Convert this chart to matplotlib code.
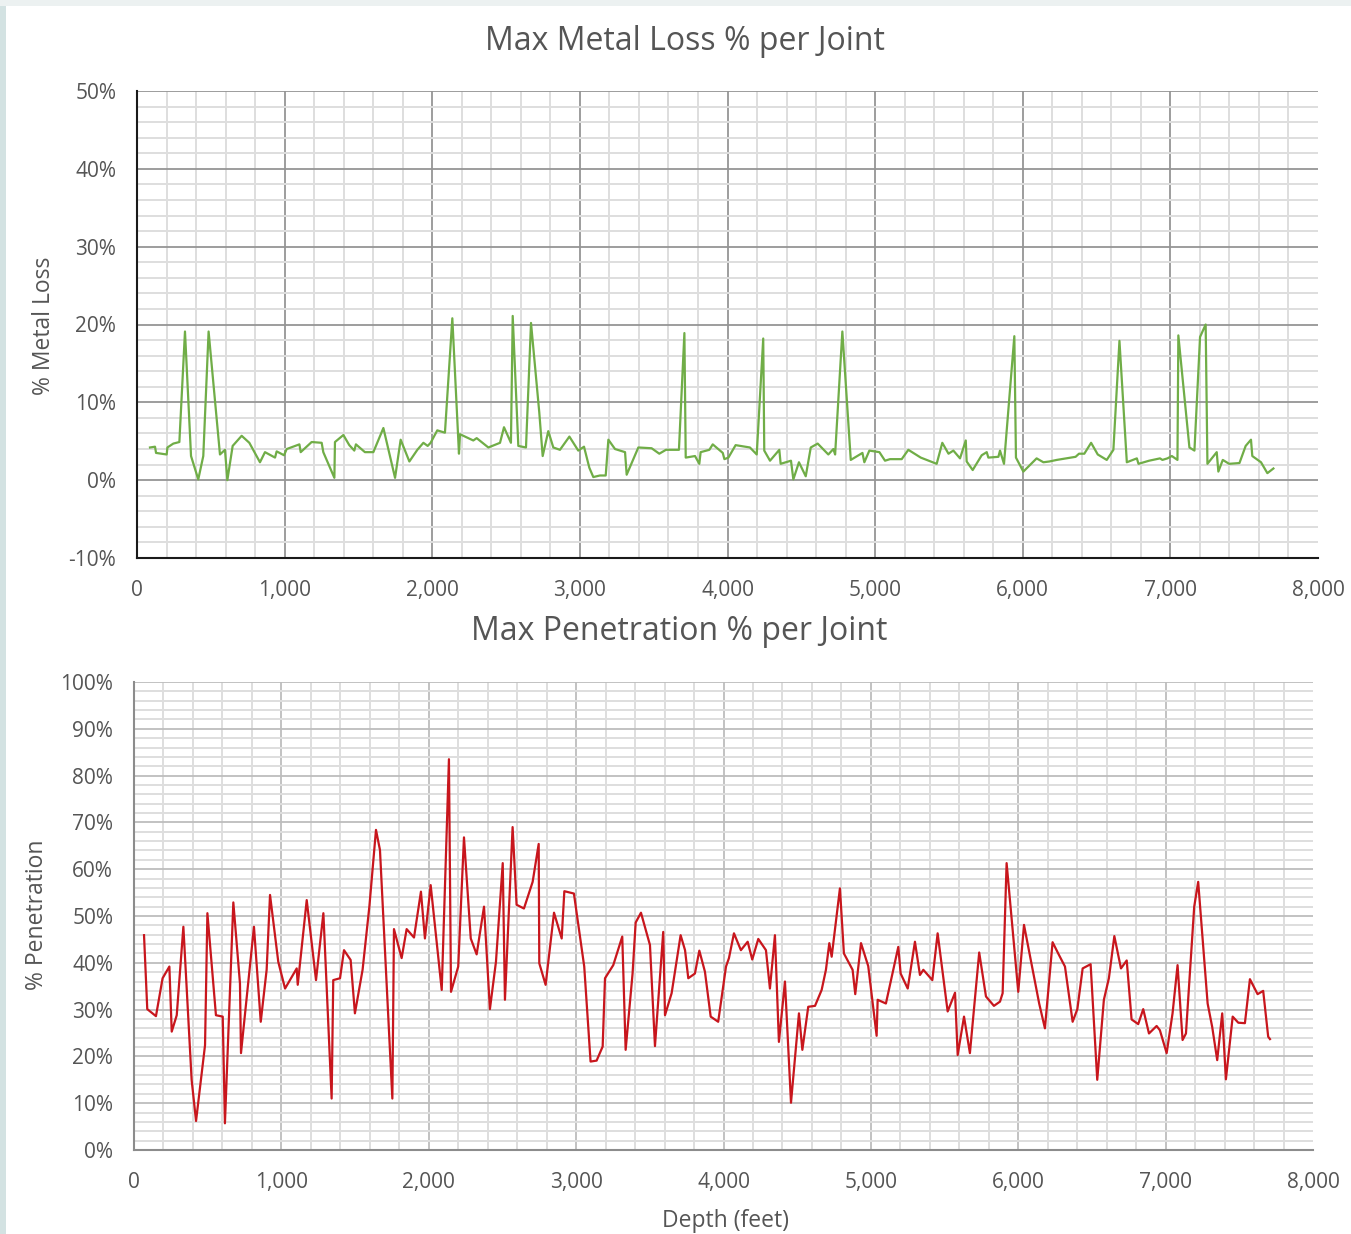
import matplotlib
matplotlib.use("Agg")
import matplotlib.pyplot as plt
from matplotlib.ticker import MultipleLocator, FuncFormatter
from matplotlib.patches import Rectangle
import numpy as np

plt.rcParams['font.family'] = ['Open Sans', 'DejaVu Sans']
plt.rcParams['axes.unicode_minus'] = False

# ---- Data: Max Metal Loss % per Joint ----
loss_depth = [88, 122, 129, 201, 206, 246, 287, 325, 366, 415, 449, 485, 562, 596, 612, 648,
              709, 761, 833, 867, 935, 946, 996, 1014, 1100, 1109, 1183, 1251, 1262, 1337, 1341,
              1398, 1438, 1472, 1483, 1544, 1601, 1669, 1748, 1786, 1845, 1899, 1940, 1969, 1989,
              2034, 2086, 2136, 2181, 2188, 2278, 2301, 2380, 2459, 2486, 2533, 2545, 2583, 2635,
              2669, 2725, 2748, 2786, 2820, 2865, 2929, 2989, 3028, 3064, 3091, 3136, 3175, 3193,
              3238, 3306, 3317, 3396, 3486, 3538, 3583, 3671, 3708, 3717, 3780, 3809, 3818, 3877,
              3900, 3968, 3979, 4006, 4055, 4152, 4198, 4242, 4249, 4288, 4351, 4360, 4430, 4446,
              4484, 4530, 4564, 4611, 4683, 4717, 4729, 4778, 4835, 4914, 4927, 4961, 5029, 5067,
              5101, 5180, 5225, 5309, 5417, 5455, 5497, 5530, 5575, 5614, 5620, 5661, 5722, 5756,
              5767, 5835, 5846, 5873, 5943, 5954, 6004, 6094, 6140, 6180, 6230, 6293, 6358, 6381,
              6417, 6463, 6508, 6569, 6614, 6655, 6705, 6773, 6784, 6856, 6930, 6946, 6980, 7010,
              7048, 7054, 7129, 7163, 7201, 7239, 7251, 7314, 7325, 7355, 7398, 7468, 7510, 7546,
              7555, 7614, 7657, 7698]
loss_pct = [4.2, 4.3, 3.5, 3.3, 4.2, 4.7, 4.9, 19.1, 3.1, 0.1, 3.1, 19.1, 3.3, 3.9, 0.0, 4.4,
            5.7, 4.8, 2.3, 3.6, 2.9, 3.7, 3.2, 4.0, 4.6, 3.6, 4.9, 4.8, 3.6, 0.3, 4.9,
            5.8, 4.5, 3.8, 4.6, 3.6, 3.6, 6.7, 0.3, 5.2, 2.4, 3.9, 4.8, 4.4, 4.8,
            6.4, 6.1, 20.8, 3.4, 5.9, 5.1, 5.4, 4.2, 4.8, 6.8, 4.8, 21.1, 4.4, 4.2,
            20.2, 8.7, 3.1, 6.3, 4.2, 3.9, 5.6, 3.8, 4.3, 1.6, 0.4, 0.6, 0.6, 5.2,
            4.0, 3.6, 0.7, 4.2, 4.1, 3.4, 3.9, 3.9, 18.9, 2.9, 3.1, 2.1, 3.6, 3.9,
            4.6, 3.5, 2.7, 2.9, 4.5, 4.2, 3.3, 18.2, 3.8, 2.5, 3.9, 2.1, 2.5, 0.1,
            2.3, 0.5, 4.2, 4.7, 3.3, 4.0, 3.3, 19.1, 2.6, 3.5, 2.3, 3.8, 3.6, 2.5,
            2.7, 2.7, 3.9, 2.9, 2.1, 4.8, 3.4, 3.8, 2.8, 5.1, 2.4, 1.3, 3.2, 3.6,
            2.9, 3.0, 3.8, 2.1, 18.5, 2.9, 1.1, 2.8, 2.3, 2.4, 2.6, 2.8, 3.0, 3.4,
            3.4, 4.8, 3.3, 2.6, 3.9, 17.9, 2.3, 2.8, 2.1, 2.5, 2.8, 2.6, 2.8, 3.1,
            2.6, 18.6, 4.2, 3.8, 18.4, 20.0, 2.1, 3.6, 1.1, 2.6, 2.1, 2.2, 4.4, 5.2,
            3.1, 2.3, 0.9, 1.5]

# ---- Data: Max Penetration % per Joint ----
pen_depth = [68, 90, 149, 194, 240, 256, 290, 335, 391, 421, 482, 498, 556, 602, 617, 674,
             719, 726, 814, 860, 900, 923, 979, 1025, 1104, 1111, 1172, 1235, 1285, 1341, 1352,
             1398, 1425, 1470, 1499, 1551, 1597, 1642, 1669, 1753, 1764, 1816, 1850, 1900, 1947,
             1974, 2013, 2088, 2137, 2151, 2200, 2239, 2285, 2325, 2375, 2415, 2456, 2502, 2517,
             2569, 2596, 2646, 2705, 2746, 2750, 2793, 2850, 2902, 2920, 2985, 3055, 3098, 3139,
             3180, 3196, 3252, 3313, 3336, 3383, 3404, 3440, 3501, 3535, 3591, 3603, 3648, 3709,
             3739, 3761, 3806, 3836, 3874, 3913, 3964, 4017, 4037, 4071, 4118, 4164, 4195, 4236,
             4288, 4315, 4349, 4376, 4417, 4458, 4512, 4535, 4575, 4621, 4666, 4695, 4718, 4734,
             4790, 4817, 4876, 4894, 4933, 4982, 5039, 5046, 5102, 5186, 5202, 5250, 5299, 5333,
             5356, 5417, 5453, 5521, 5571, 5589, 5632, 5672, 5735, 5781, 5835, 5876, 5894, 5921,
             6000, 6039, 6142, 6181, 6233, 6271, 6317, 6369, 6401, 6437, 6491, 6536, 6581, 6615,
             6652, 6697, 6736, 6769, 6814, 6848, 6887, 6939, 6961, 7007, 7047, 7081, 7115, 7138,
             7194, 7221, 7285, 7316, 7350, 7384, 7409, 7455, 7493, 7538, 7572, 7624, 7662, 7696,
             7708]
pen_pct = [45.9, 30.1, 28.6, 36.7, 39.2, 25.3, 28.8, 47.7, 15.0, 6.2, 22.4, 50.6, 28.8, 28.5, 5.7, 52.9,
           35.6, 20.7, 47.7, 27.4, 38.5, 54.5, 40.2, 34.5, 38.8, 35.3, 53.4, 36.3, 50.6, 11.0, 36.3,
           36.7, 42.7, 40.6, 29.2, 38.5, 52.0, 68.4, 64.1, 11.0, 47.2, 41.0, 47.2, 45.4, 55.2,
           45.2, 56.6, 34.2, 83.5, 33.8, 39.2, 66.8, 45.2, 41.8, 52.0, 30.1, 40.2, 61.3, 32.1,
           69.0, 52.4, 51.6, 57.3, 65.4, 39.9, 35.3, 50.7, 45.2, 55.3, 54.8, 39.2, 18.9, 19.1,
           22.1, 36.7, 39.5, 45.6, 21.4, 37.7, 48.6, 50.7, 43.8, 22.2, 46.6, 28.8, 33.5, 45.9,
           42.7, 36.7, 37.7, 42.6, 38.1, 28.5, 27.4, 39.2, 41.0, 46.3, 42.7, 44.5, 40.7, 45.1,
           42.7, 34.5, 45.9, 23.1, 36.0, 10.1, 29.2, 21.4, 30.6, 30.8, 34.2, 38.5, 44.2, 41.3,
           55.9, 42.0, 38.5, 33.3, 44.2, 39.3, 24.4, 32.1, 31.3, 43.4, 37.7, 34.5, 44.5, 37.4,
           38.5, 36.3, 46.3, 29.6, 33.6, 20.3, 28.5, 20.7, 42.2, 32.8, 30.8, 31.7, 33.5, 61.3,
           33.8, 48.1, 31.3, 26.0, 44.4, 42.0, 39.2, 27.4, 30.1, 38.8, 39.7, 15.0, 32.1, 36.7,
           45.7, 38.8, 40.5, 27.9, 26.9, 30.1, 24.9, 26.5, 25.6, 20.7, 29.2, 39.5, 23.5, 24.9,
           52.0, 57.3, 31.3, 26.3, 19.2, 29.2, 15.1, 28.5, 27.2, 27.1, 36.5, 33.3, 34.0, 24.2,
           23.7]

x_ticks = [0, 1000, 2000, 3000, 4000, 5000, 6000, 7000, 8000]

TEXT = '#555555'
W, H = 1351, 1234
fig = plt.figure(figsize=(W / 100, H / 100), dpi=100)
fig.patch.set_facecolor('white')

# light border strips (left and top)
fig.patches.append(Rectangle((0, 0), 6 / W, 1, transform=fig.transFigure,
                             facecolor='#d3e2e2', edgecolor='none', zorder=0))
fig.patches.append(Rectangle((0, 1 - 6 / H), 1, 6 / H, transform=fig.transFigure,
                             facecolor='#ecf1f1', edgecolor='none', zorder=0))


def style_axes(ax, ymin, ymax, major_color, minor_color, spine_color):
    ax.set_xlim(0, 8000)
    ax.set_ylim(ymin, ymax)
    ax.set_xticks(x_ticks)
    ax.xaxis.set_minor_locator(MultipleLocator(200))
    ax.yaxis.set_major_locator(MultipleLocator(10))
    ax.yaxis.set_minor_locator(MultipleLocator(2))
    ax.xaxis.set_major_formatter(FuncFormatter(lambda v, p: f"{int(round(v)):,}"))
    ax.yaxis.set_major_formatter(FuncFormatter(lambda v, p: f"{int(round(v))}%"))
    ax.grid(True, which='major', color=major_color, linewidth=1.3, zorder=0)
    ax.grid(True, which='minor', color=minor_color, linewidth=1.4, zorder=0)
    ax.set_axisbelow(True)
    ax.tick_params(which='both', length=0)
    ax.tick_params(axis='y', pad=15, labelsize=15, labelcolor=TEXT)
    ax.tick_params(axis='x', pad=16, labelsize=15, labelcolor=TEXT)
    for s in ['top', 'right']:
        ax.spines[s].set_visible(False)
    for s in ['left', 'bottom']:
        ax.spines[s].set_color(spine_color)
        ax.spines[s].set_linewidth(1.5)


# ---- Top chart ----
ax1 = fig.add_axes([137 / W, 1 - 558 / H, (1318 - 137) / W, (558 - 91) / H])
style_axes(ax1, -10, 50, '#959595', '#dedede', '#1a1a1a')
ax1.plot(loss_depth, loss_pct, color='#70ad47', linewidth=1.6, zorder=3)

# ---- Bottom chart ----
ax2 = fig.add_axes([134 / W, 1 - 1150 / H, (1313 - 134) / W, (1150 - 682) / H])
style_axes(ax2, 0, 100, '#bdbdbd', '#dedede', '#8c8c8c')
ax2.plot(pen_depth, pen_pct, color='#c8161d', linewidth=1.6, zorder=3)

fig.canvas.draw()
for ax in (ax1, ax2):
    gl = ax.get_xgridlines()
    gl[-1].set_visible(False)

# titles and labels
fig.text(685 / W, 1 - 41 / H, 'Max Metal Loss % per Joint', ha='center', va='center',
         fontsize=23, color=TEXT)
fig.text(679 / W, 1 - 631 / H, 'Max Penetration % per Joint', ha='center', va='center',
         fontsize=23, color=TEXT)
fig.text(44 / W, 1 - 326 / H, '% Metal Loss', ha='center', va='center', rotation=90,
         fontsize=16.5, color=TEXT)
fig.text(37 / W, 1 - 915 / H, '% Penetration', ha='center', va='center', rotation=90,
         fontsize=16.5, color=TEXT)
fig.text(725 / W, 1 - 1221 / H, 'Depth (feet)', ha='center', va='center',
         fontsize=16.5, color=TEXT)

fig.savefig('out.png', dpi=100, facecolor=fig.get_facecolor())
